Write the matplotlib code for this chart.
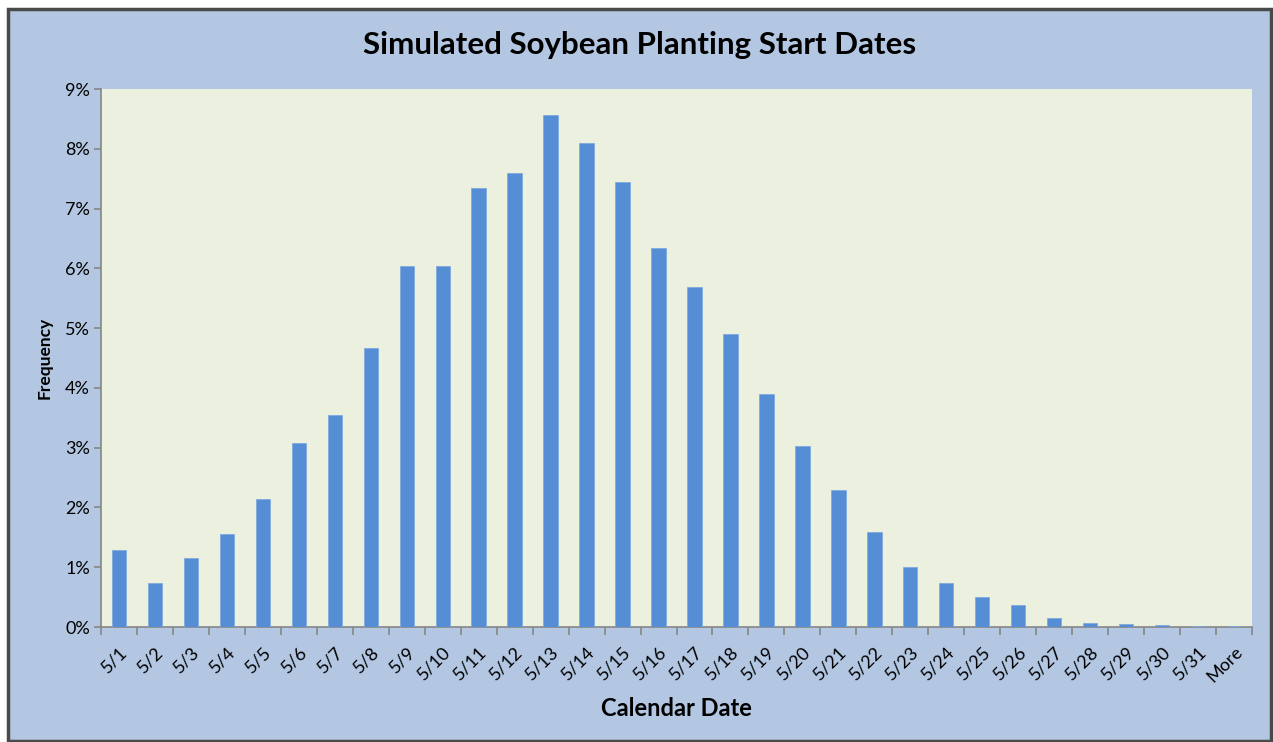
import matplotlib.pyplot as plt
from matplotlib.patches import Rectangle
from matplotlib.ticker import FuncFormatter, MultipleLocator

plt.rcParams['font.family'] = ['Lato', 'DejaVu Sans']

# dates de semis simulées (fréquence en %)
dates = ['5/1', '5/2', '5/3', '5/4', '5/5', '5/6', '5/7', '5/8', '5/9', '5/10',
         '5/11', '5/12', '5/13', '5/14', '5/15', '5/16', '5/17', '5/18', '5/19', '5/20',
         '5/21', '5/22', '5/23', '5/24', '5/25', '5/26', '5/27', '5/28', '5/29', '5/30',
         '5/31', 'More']
frequence = [1.29, 0.74, 1.15, 1.56, 2.14, 3.08, 3.55, 4.67, 6.04, 6.04,
             7.34, 7.59, 8.56, 8.09, 7.44, 6.34, 5.69, 4.90, 3.90, 3.03,
             2.29, 1.59, 1.00, 0.74, 0.50, 0.36, 0.15, 0.07, 0.05, 0.035,
             0.025, 0.025]

bleu_fond = "#B3C7E2"
fond_graphe = "#EBF1DE"
couleur_barres = "#558ED5"
gris = "#868686"

fig = plt.figure(figsize=(12.73, 7.42), dpi=100)
fig.patch.set_facecolor('white')
fig.patches.append(Rectangle((8 / 1273, 1 / 742), 1263 / 1273, 732 / 742,
                             transform=fig.transFigure, facecolor=bleu_fond,
                             edgecolor='#4A4A4A', linewidth=2.5, zorder=-1))

ax = fig.add_axes([101 / 1273, 115 / 742, 1151 / 1273, 538 / 742])
ax.set_facecolor(fond_graphe)

x = list(range(len(dates)))
ax.bar(x, frequence, width=0.4, color=couleur_barres, edgecolor='#7FA9DE',
       linewidth=0.6, zorder=3)

ax.set_xlim(-0.5, len(dates) - 0.5)
ax.set_ylim(0, 9)
ax.yaxis.set_major_locator(MultipleLocator(1))
ax.yaxis.set_major_formatter(FuncFormatter(lambda v, p: f"{v:.0f}%"))

ax.set_xticks(x)
ax.set_xticklabels(dates, rotation=45, ha='right', rotation_mode='anchor')
ax.set_xticks([i - 0.5 for i in range(len(dates) + 1)], minor=True)
ax.tick_params(axis='x', which='major', length=0, pad=12, labelsize=13, colors='black')
ax.tick_params(axis='x', which='minor', length=6, color=gris, width=1.2)
ax.tick_params(axis='y', length=5, color=gris, width=1.2, labelsize=13, pad=3)

for s in ['top', 'right']:
    ax.spines[s].set_visible(False)
for s in ['left', 'bottom']:
    ax.spines[s].set_color(gris)
    ax.spines[s].set_linewidth(1.2)

fig.text(640 / 1273, 1 - 45 / 742, 'Simulated Soybean Planting Start Dates',
         ha='center', va='center', fontsize=22.5, fontweight='bold')
fig.text(676 / 1273, 1 - 708 / 742, 'Calendar Date', ha='center', va='center',
         fontsize=17, fontweight='bold')
fig.text(45 / 1273, 1 - 358 / 742, 'Frequency', ha='center', va='center',
         rotation=90, fontsize=12.5, fontweight='bold')

plt.savefig("out.png", dpi=100)
